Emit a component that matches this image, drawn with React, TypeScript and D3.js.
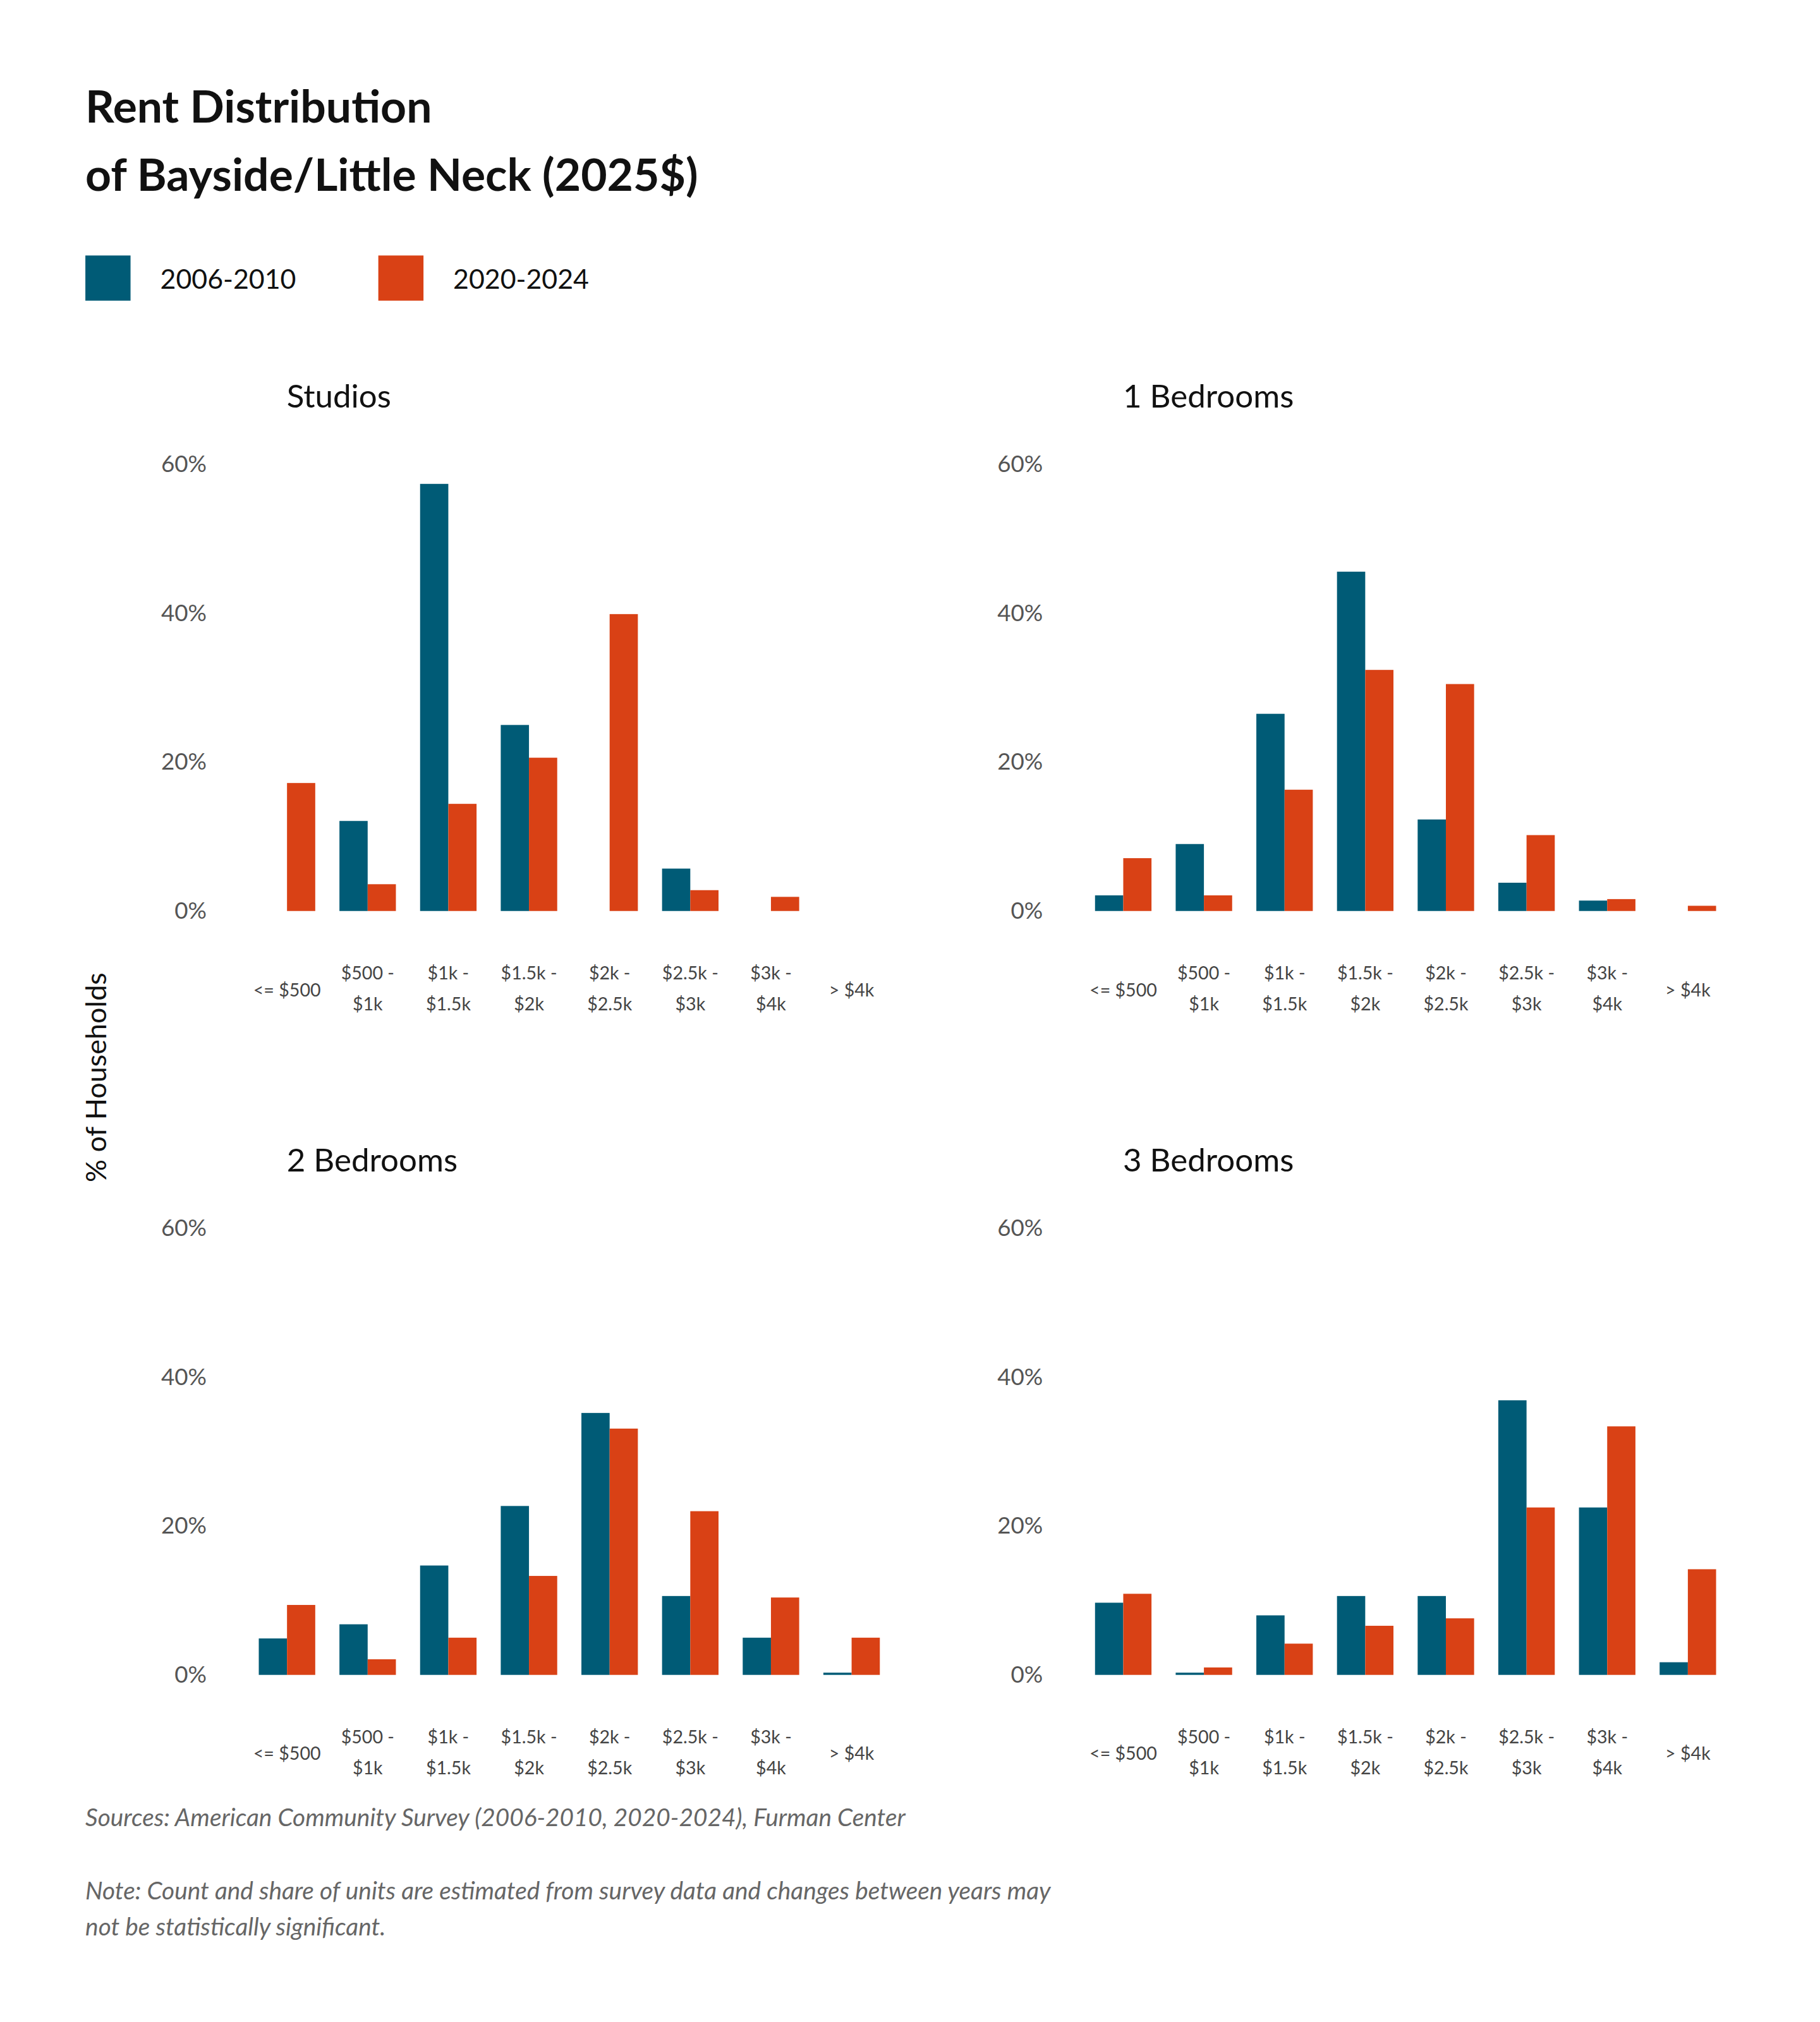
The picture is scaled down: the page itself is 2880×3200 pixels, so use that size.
import React from "react";
import * as d3 from "d3";

const categories = ["<= $500", "$500 -|$1k", "$1k -|$1.5k", "$1.5k -|$2k", "$2k -|$2.5k", "$2.5k -|$3k", "$3k -|$4k", "> $4k"];
const seriesNames = ["2006-2010", "2020-2024"];
const colors = ["#005b76", "#d94115"];
const panelTitles = ["Studios", "1 Bedrooms", "2 Bedrooms", "3 Bedrooms"];
const studios2006 = [0, 12.1, 57.4, 25, 0, 5.7, 0, 0];
const studios2020 = [17.2, 3.6, 14.4, 20.6, 39.9, 2.8, 1.9, 0];
const br1_2006 = [2.1, 9, 26.5, 45.6, 12.3, 3.8, 1.4, 0];
const br1_2020 = [7.1, 2.1, 16.3, 32.4, 30.5, 10.2, 1.6, 0.7];
const br2_2006 = [4.9, 6.8, 14.7, 22.7, 35.2, 10.6, 5, 0.3];
const br2_2020 = [9.4, 2.1, 5, 13.3, 33.1, 22, 10.4, 5];
const br3_2006 = [9.7, 0.3, 8, 10.6, 10.6, 36.9, 22.5, 1.7];
const br3_2020 = [10.9, 1, 4.2, 6.6, 7.6, 22.5, 33.4, 14.2];
const yTicks = [0, 20, 40, 60];

const panels = [
  [studios2006, studios2020],
  [br1_2006, br1_2020],
  [br2_2006, br2_2020],
  [br3_2006, br3_2020],
];

const FONT = "Lato, 'Open Sans', sans-serif";

function Panel({ idx }: { idx: number }) {
  const ox = (idx % 2) * 648;
  const oy = Math.floor(idx / 2) * 592;
  const x = d3.scaleBand().domain(categories).range([191 + ox, 691 + ox]).paddingInner(0.3).paddingOuter(0.15);
  const sub = d3.scaleBand().domain(seriesNames).range([0, x.bandwidth()]);
  const y = d3.scaleLinear().domain([0, 60]).range([706 + oy, 360 + oy]);
  return (
    <g>
      <text x={222 + ox} y={316 + oy} fontSize={25} fill="#111" fontFamily={FONT}>{panelTitles[idx]}</text>
      {yTicks.map((t) => (
        <text key={t} x={160 + ox} y={y(t) + 6} textAnchor="end" fontSize={18} fill="#555" fontFamily={FONT}>{t}%</text>
      ))}
      {panels[idx].map((vals, s) =>
        vals.map((v, i) => (
          <rect key={s + "-" + i} x={x(categories[i])! + sub(seriesNames[s])!} width={sub.bandwidth()} y={y(v)} height={y(0) - y(v)} fill={colors[s]} />
        ))
      )}
      {categories.map((c) => {
        const parts = c.split("|");
        const cx = x(c)! + x.bandwidth() / 2;
        return parts.length === 1 ? (
          <text key={c} x={cx} y={772 + oy} textAnchor="middle" fontSize={14} fill="#444" fontFamily={FONT}>{parts[0]}</text>
        ) : (
          <text key={c} textAnchor="middle" fontSize={14} fill="#444" fontFamily={FONT}>
            <tspan x={cx} y={759 + oy}>{parts[0]}</tspan>
            <tspan x={cx} y={783 + oy}>{parts[1]}</tspan>
          </text>
        );
      })}
    </g>
  );
}

export default function App() {
  return (
    <svg width={2880} height={3200} viewBox="0 0 1410 1567" style={{ position: "absolute", left: 0, top: 0, background: "#fff" }}>
      <rect width={1410} height={1567} fill="#fff" />
      <text x={66} y={95} fontSize={35} fontWeight="bold" fill="#111" fontFamily={FONT}>Rent Distribution</text>
      <text x={66} y={148} fontSize={35} fontWeight="bold" fill="#111" fontFamily={FONT}>of Bayside/Little Neck (2025$)</text>
      {seriesNames.map((n, i) => (
        <g key={n}>
          <rect x={66 + i * 227} y={198} width={35} height={35} fill={colors[i]} />
          <text x={124 + i * 227} y={224} fontSize={21} fill="#111" fontFamily={FONT}>{n}</text>
        </g>
      ))}
      <text transform="translate(82,835) rotate(-90)" textAnchor="middle" fontSize={22} fill="#111" fontFamily={FONT}>% of Households</text>
      {[0, 1, 2, 3].map((i) => <Panel key={i} idx={i} />)}
      <text x={66} y={1415} fontSize={19} fontStyle="italic" fill="#666" fontFamily={FONT}>Sources: American Community Survey (2006-2010, 2020-2024), Furman Center</text>
      <text x={66} y={1472} fontSize={19} fontStyle="italic" fill="#666" fontFamily={FONT}>Note: Count and share of units are estimated from survey data and changes between years may</text>
      <text x={66} y={1500} fontSize={19} fontStyle="italic" fill="#666" fontFamily={FONT}>not be statistically significant.</text>
    </svg>
  );
}
